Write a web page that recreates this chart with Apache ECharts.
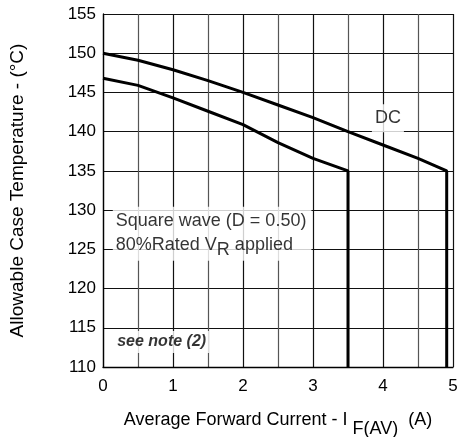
<!DOCTYPE html>
<html><head><meta charset="utf-8">
<script src="https://cdn.jsdelivr.net/npm/echarts@6/dist/echarts.min.js"></script>
<style>html,body{margin:0;padding:0;background:#fff}#c{width:459px;height:437px}</style>
</head><body><div id="c"></div>
<script>
// Square wave (D = 0.50) curve
var sqX = [0, 0.5, 1.0, 1.5, 2.0, 2.5, 3.0, 3.5, 3.5];
var sqY = [146.8, 145.9, 144.3, 142.6, 140.9, 138.6, 136.6, 135, 110];
// DC curve
var dcX = [0, 0.5, 1.0, 1.5, 2.0, 2.5, 3.0, 3.5, 4.0, 4.5, 4.91, 4.91];
var dcY = [150, 149.1, 147.9, 146.5, 145, 143.4, 141.8, 140, 138.3, 136.6, 135, 110];
var xTicks = [0, 1, 2, 3, 4, 5];
var yTicks = [110, 115, 120, 125, 130, 135, 140, 145, 150, 155];

function pairs(xs, ys){ return xs.map(function(x,i){return [x, ys[i]];}); }

var font = 'Liberation Sans, Arial, sans-serif';
var chart = echarts.init(document.getElementById('c'), null, {renderer:'canvas'});
chart.setOption({
  animation:false,
  backgroundColor:'#fff',
  grid:{left:103, right:6, top:14, bottom:70, containLabel:false, outerBoundsMode:'none'},
  xAxis:{
    type:'value', min:xTicks[0], max:xTicks[xTicks.length-1], interval:1,
    axisLine:{show:true, onZero:false, lineStyle:{color:'#000', width:1.3}},
    axisTick:{show:false},
    axisLabel:{color:'#000', fontSize:17, fontFamily:font, margin:11},
    splitLine:{show:true, lineStyle:{color:'#111', width:1.2}},
    minorTick:{show:true, splitNumber:2, length:0, lineStyle:{width:0}},
    minorSplitLine:{show:true, lineStyle:{color:'#555', width:1.2}},
    name:'{n|Average Forward Current - I }{s|F(AV)}{n|  (A)}',
    nameLocation:'middle', nameGap:40,
    nameTextStyle:{rich:{
      n:{fontSize:18, fontFamily:font, color:'#000', verticalAlign:'bottom', lineHeight:22},
      s:{fontSize:18, fontFamily:font, color:'#000', verticalAlign:'bottom', lineHeight:22, padding:[0,0,-9,0]}
    }}
  },
  yAxis:{
    type:'value', min:yTicks[0], max:yTicks[yTicks.length-1], interval:5,
    axisLine:{show:true, lineStyle:{color:'#000', width:1.3}},
    axisTick:{show:false},
    axisLabel:{color:'#000', fontSize:17, fontFamily:font, margin:7},
    splitLine:{show:true, lineStyle:{color:'#111', width:1.2}},
    name:'Allowable Case Temperature - (°C)',
    nameLocation:'middle', nameGap:76,
    nameTextStyle:{fontSize:19, fontFamily:font, color:'#000'}
  },
  series:[
    {type:'line', data:pairs(dcX, dcY), symbol:'none', smooth:false,
     lineStyle:{color:'#000', width:3}, z:3},
    {type:'line', data:pairs(sqX, sqY), symbol:'none', smooth:false,
     lineStyle:{color:'#000', width:3}, z:3},
    {type:'scatter', symbolSize:0, z:5, silent:true,
     data:[
       {value:[4.07, 141.7], label:{show:true, position:'inside', formatter:'DC',
         fontSize:18, fontFamily:font, color:'#000', backgroundColor:'#fff', padding:[5,3,5,3]}},
       {value:[0.14, 127.0], label:{show:true, position:'right', distance:0, align:'left',
         formatter:'{a|Square wave (D = 0.50)}\n{a|80%Rated V}{s|R}{a| applied}',
         backgroundColor:'#fff', padding:[2,5,4,3],
         rich:{a:{fontSize:18, fontFamily:font, color:'#000', lineHeight:24},
               s:{fontSize:18, fontFamily:font, color:'#000', lineHeight:24, padding:[0,0,-10,0]}}}},
       {value:[0.16, 113.2], label:{show:true, position:'right', distance:0, align:'left',
         formatter:'see note (2)', fontSize:16, fontWeight:'bold', fontStyle:'italic',
         fontFamily:font, color:'#000', backgroundColor:'#fff', padding:[3,3,3,3]}}
     ]}
  ]
});
</script></body></html>
